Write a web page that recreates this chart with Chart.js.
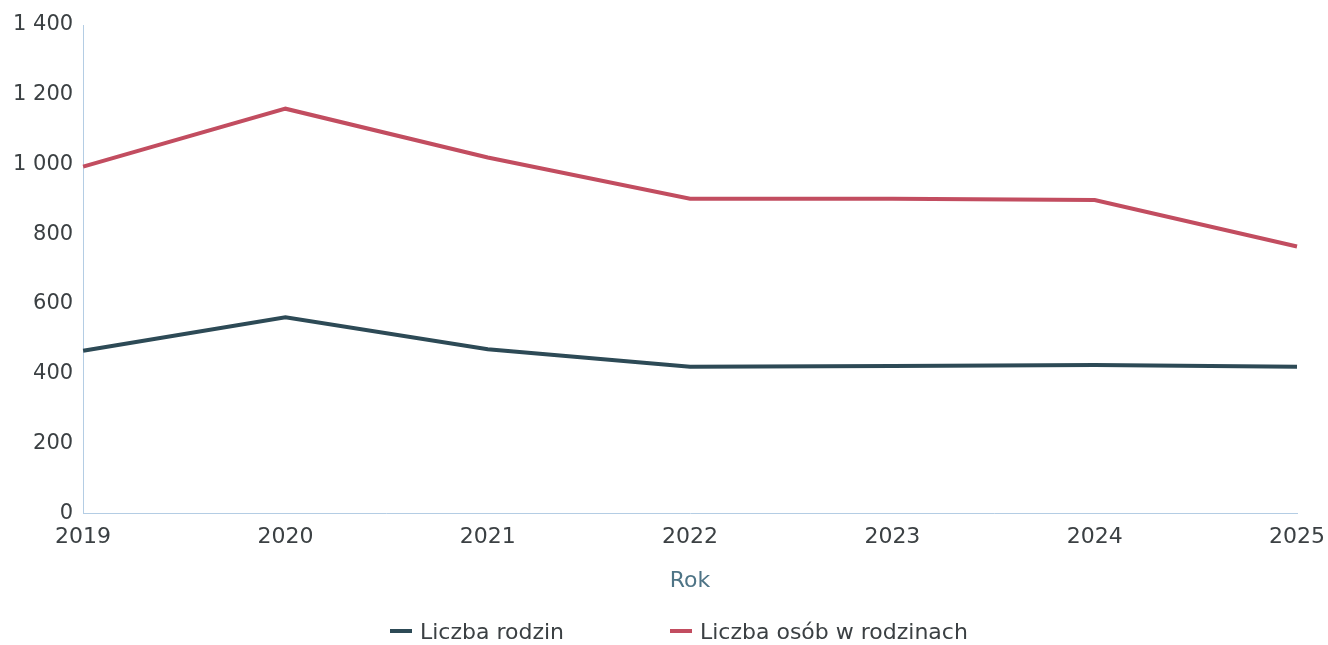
<!DOCTYPE html>
<html>
<head>
<meta charset="utf-8">
<script src="https://cdn.jsdelivr.net/npm/chart.js@4/dist/chart.umd.min.js"></script>
<style>
    html, body { margin: 0; padding: 0; background: #ffffff; }
    #wrap { position: relative; width: 1328px; height: 645px; }
    #legend {
        position: absolute; left: 0; top: 617px; width: 1328px;
        font-family: 'DejaVu Sans', Verdana, sans-serif; font-size: 22px;
        color: #3b4043; line-height: 30px; white-space: nowrap;
    }
    .item { position: absolute; top: 0; }
    .mark { display: inline-block; width: 22px; height: 4px; vertical-align: middle;
            margin-right: 8px; position: relative; top: -2px; }
</style>
</head>
<body>
<div id="wrap">
    <canvas id="chart"></canvas>
    <div id="legend"></div>
</div>
<script>
// Data
const years = ['2019', '2020', '2021', '2022', '2023', '2024', '2025'];
const liczbaRodzin = [466, 562, 470, 420, 422, 425, 420];
const liczbaOsob = [994, 1160, 1020, 902, 902, 898, 765];
const yTicks = [0, 200, 400, 600, 800, 1000, 1200, 1400];
const seriesNames = ['Liczba rodzin', 'Liczba osób w rodzinach'];

const COLORS = {
    dark: '#2d4a56',
    red: '#c24d60',
    text: '#3b4043',
    axisTitle: '#4e7486',
    border: '#b4cde4'
};

Chart.defaults.font.family = "'DejaVu Sans', Verdana, sans-serif";
Chart.defaults.font.size = 22;
Chart.defaults.color = COLORS.text;

// Polish style thousands separator (space), also for 4-digit numbers
function fmt(v) {
    return String(v).replace(/\B(?=(\d{3})+(?!\d))/g, ' ');
}

const chart = new Chart(document.getElementById('chart'), {
    type: 'line',
    data: {
        labels: years,
        datasets: [{
            label: seriesNames[0],
            data: liczbaRodzin,
            borderColor: COLORS.dark,
            backgroundColor: COLORS.dark,
            borderWidth: 4,
            pointRadius: 0,
            tension: 0
        }, {
            label: seriesNames[1],
            data: liczbaOsob,
            borderColor: COLORS.red,
            backgroundColor: COLORS.red,
            borderWidth: 4,
            pointRadius: 0,
            tension: 0
        }]
    },
    options: {
        responsive: true,
        maintainAspectRatio: false,
        animation: false,
        layout: {
            padding: { top: 25, right: 6, left: 11, bottom: 51 }
        },
        plugins: {
            legend: { display: false },
            tooltip: { enabled: false }
        },
        scales: {
            x: {
                offset: false,
                grid: { display: false },
                border: { display: true, color: COLORS.border, dash: [1, 3], width: 1 },
                ticks: {
                    color: COLORS.text,
                    maxRotation: 0,
                    padding: 3,
                    font: { size: 22 }
                },
                title: {
                    display: true,
                    text: 'Rok',
                    color: COLORS.axisTitle,
                    font: { size: 22 },
                    padding: { top: 14, bottom: 0 }
                }
            },
            y: {
                min: 0,
                max: 1400,
                afterBuildTicks: (axis) => {
                    axis.ticks = yTicks.map(v => ({ value: v }));
                },
                grid: { display: false },
                border: { display: true, color: COLORS.border, dash: [1, 3], width: 1 },
                ticks: {
                    color: COLORS.text,
                    padding: 2,
                    font: { size: 21 },
                    callback: (v) => fmt(v)
                }
            }
        }
    }
});

// Legend below the chart, items placed like in the reference
const legendEl = document.getElementById('legend');
const legendX = [390, 670];
chart.data.datasets.forEach((ds, i) => {
    const item = document.createElement('span');
    item.className = 'item';
    item.style.left = legendX[i] + 'px';
    const mark = document.createElement('span');
    mark.className = 'mark';
    mark.style.background = ds.borderColor;
    item.appendChild(mark);
    item.appendChild(document.createTextNode(ds.label));
    legendEl.appendChild(item);
});
</script>
</body>
</html>
